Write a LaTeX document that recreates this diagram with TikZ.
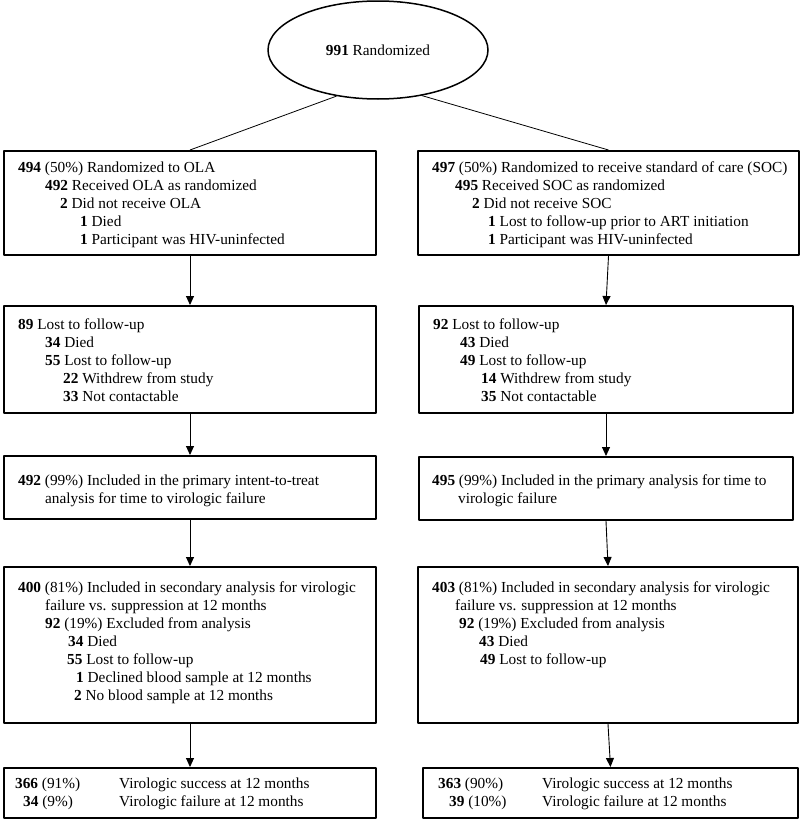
\documentclass[tikz,border=0pt]{standalone}
\usepackage{fontspec}
\setmainfont{Liberation Serif}
\usetikzlibrary{shapes.geometric,arrows.meta}

\begin{document}
\begin{tikzpicture}[x=1pt,y=-1pt,line join=round,
  box/.style={draw,line width=2pt,rectangle,inner sep=0pt},
  txt/.style={anchor=north west,inner sep=0pt,align=left,font=\fontsize{15.3}{18}\selectfont},
  arr/.style={line width=0.9pt,-{Triangle[length=9pt,width=8pt]}}]
  \useasboundingbox (0,0) rectangle (800,819);
  % top
  \node (rand) [draw,ellipse,line width=1.5pt,minimum width=220pt,minimum height=98pt,inner sep=0pt,
    font=\fontsize{15.3}{18}\selectfont] at (378,50) {\textbf{991} Randomized};
  % boxes
  \node (olaA) [box,minimum width=372pt,minimum height=104pt] at (190,203) {};
  \node (socA) [box,minimum width=381pt,minimum height=104pt] at (608.5,203) {};
  \node (olaB) [box,minimum width=372pt,minimum height=107pt] at (190,359.5) {};
  \node (socB) [box,minimum width=374pt,minimum height=107pt] at (606,359.5) {};
  \node (olaC) [box,minimum width=372pt,minimum height=63pt] at (190,487.5) {};
  \node (socC) [box,minimum width=374pt,minimum height=63pt] at (606,488.5) {};
  \node (olaD) [box,minimum width=372pt,minimum height=156pt] at (190,645) {};
  \node (socD) [box,minimum width=380pt,minimum height=156pt] at (608,645) {};
  \node (olaE) [box,minimum width=372pt,minimum height=50pt] at (190,793) {};
  \node (socE) [box,minimum width=375pt,minimum height=50pt] at (610.5,793) {};
  % texts
  \node (olaAt) [txt] at (18,161.4) {\textbf{494} (50\%) Randomized to OLA\\
    \hspace*{27pt}\textbf{492} Received OLA as randomized\\
    \hspace*{42pt}\textbf{2} Did not receive OLA\\
    \hspace*{62pt}\textbf{1} Died\\
    \hspace*{62pt}\textbf{1} Participant was HIV-uninfected};
  \node (socAt) [txt] at (432,161.4) {\textbf{497} (50\%) Randomized to receive standard of care (SOC)\\
    \hspace*{23pt}\textbf{495} Received SOC as randomized\\
    \hspace*{40pt}\textbf{2} Did not receive SOC\\
    \hspace*{56pt}\textbf{1} Lost to follow-up prior to ART initiation\\
    \hspace*{56pt}\textbf{1} Participant was HIV-uninfected};
  \node (olaBt) [txt] at (18,318.4) {\textbf{89} Lost to follow-up\\
    \hspace*{27pt}\textbf{34} Died\\
    \hspace*{27pt}\textbf{55} Lost to follow-up\\
    \hspace*{45pt}\textbf{22} Withdrew from study\\
    \hspace*{45pt}\textbf{33} Not contactable};
  \node (socBt) [txt] at (433,318.4) {\textbf{92} Lost to follow-up\\
    \hspace*{27pt}\textbf{43} Died\\
    \hspace*{27pt}\textbf{49} Lost to follow-up\\
    \hspace*{48pt}\textbf{14} Withdrew from study\\
    \hspace*{48pt}\textbf{35} Not contactable};
  \node (olaCt) [txt] at (18,474.4) {\textbf{492} (99\%) Included in the primary intent-to-treat\\
    \hspace*{27pt}analysis for time to virologic failure};
  \node (socCt) [txt] at (432,474.4) {\textbf{495} (99\%) Included in the primary analysis for time to\\
    \hspace*{26pt}virologic failure};
  \node (olaDt) [txt] at (18,581.4) {\textbf{400} (81\%) Included in secondary analysis for virologic\\
    \hspace*{27pt}failure vs. suppression at 12 months\\
    \hspace*{27pt}\textbf{92} (19\%) Excluded from analysis\\
    \hspace*{50pt}\textbf{34} Died\\
    \hspace*{49pt}\textbf{55} Lost to follow-up\\
    \hspace*{58pt}\textbf{1} Declined blood sample at 12 months\\
    \hspace*{56pt}\textbf{2} No blood sample at 12 months};
  \node (socDt) [txt] at (432,581.4) {\textbf{403} (81\%) Included in secondary analysis for virologic\\
    \hspace*{23pt}failure vs. suppression at 12 months\\
    \hspace*{27pt}\textbf{92} (19\%) Excluded from analysis\\
    \hspace*{47pt}\textbf{43} Died\\
    \hspace*{48pt}\textbf{49} Lost to follow-up};
  \node (olaEn) [txt] at (15,777.4) {\textbf{366} (91\%)\\ \hspace*{8pt}\textbf{34} (9\%)};
  \node (olaEd) [txt] at (119,777.4) {Virologic success at 12 months\\ Virologic failure at 12 months};
  \node (socEn) [txt] at (438,777.4) {\textbf{363} (90\%)\\ \hspace*{11pt}\textbf{39} (10\%)};
  \node (socEd) [txt] at (542,777.4) {Virologic success at 12 months\\ Virologic failure at 12 months};
  % connectors
  \draw[line width=0.8pt] (rand.-132) -- (olaA.north);
  \draw[line width=0.8pt] (rand.-46) -- (socA.north);
  \draw[arr] (olaA.south) -- (olaB.north);
  \draw[arr] (olaB.south) -- (olaC.north);
  \draw[arr] (olaC.south) -- (olaD.north);
  \draw[arr] (olaD.south) -- (olaE.north);
  \draw[arr] (socA.south) -- (socB.north);
  \draw[arr] (socB.south) -- (socC.north);
  \draw[arr] (socC.south) -- (socD.north);
  \draw[arr] (socD.south) -- (socE.north);
\end{tikzpicture}
\end{document}
